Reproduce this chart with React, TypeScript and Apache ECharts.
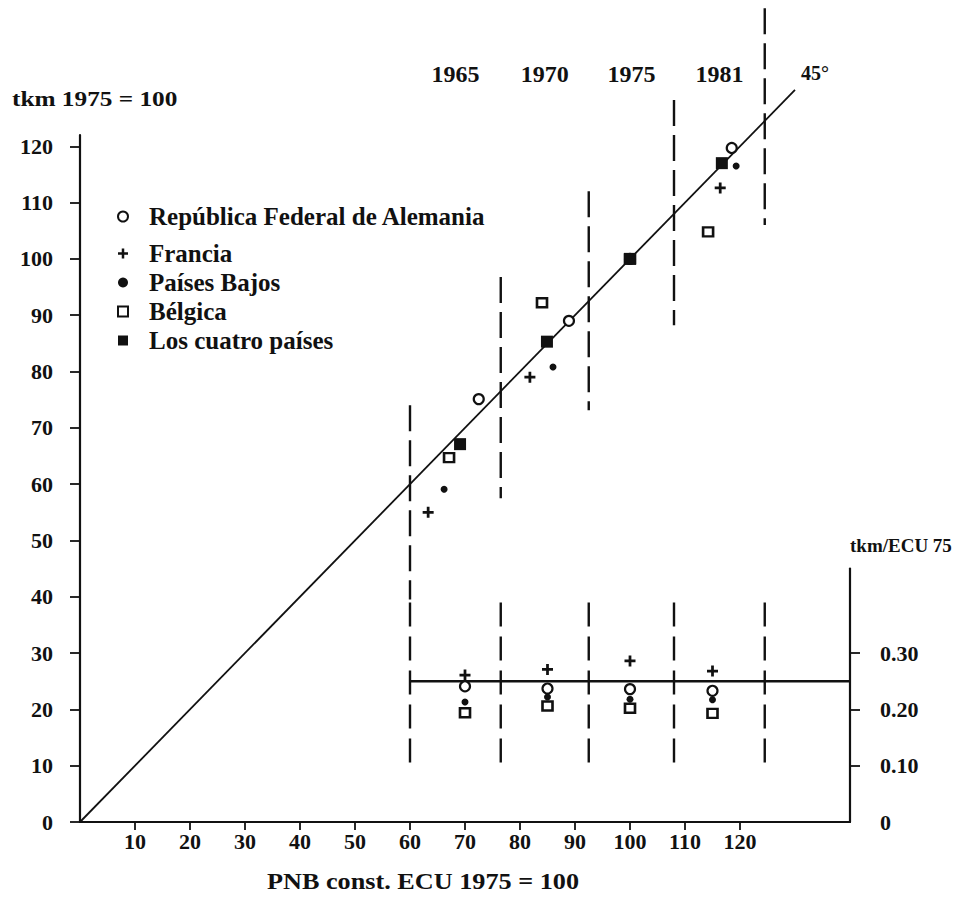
import React, { useEffect, useRef } from 'react';
import * as echarts from 'echarts';

const FONT = '"Liberation Serif", "Times New Roman", Times, serif';
const INK = '#111111';

// Axis ticks / labels
const pnbTickValues = [10, 20, 30, 40, 50, 60, 70, 80, 90, 100, 110, 120];
const tkmTickValues = [0, 10, 20, 30, 40, 50, 60, 70, 80, 90, 100, 110, 120];
const ratioTickValues = [0.1, 0.2, 0.3];
const ratioLabelValues = [0, 0.1, 0.2, 0.3];

// Periods (zones separated by dashed lines)
const periodYears = ['1965', '1970', '1975', '1981'];
const periodBounds = [60, 76.5, 92.5, 108, 124.5];
const periodLabelLevel = 132.8;
const upperDashTop = [74, 96.8, 112, 128.2, 144.5];
const upperDashBottom = [39.5, 57.5, 73.1, 88.2, 106];
const lowerDashTop = 0.39;
const lowerDashBottom = 0.1;

// 45 degree reference line
const diagonalX = [0, 130];
const diagonalY = [0, 130];

// average tkm/ECU level of the four countries
const fourCountryRatio = 0.25;
const ratioLineX = [60, 140];

const seriesNames = [
  'República Federal de Alemania',
  'Francia',
  'Países Bajos',
  'Bélgica',
  'Los cuatro países',
];

// Upper panel: [PNB index, tkm index]
const alemaniaIdx = [[72.5, 75.1], [88.9, 89], [100, 100], [118.5, 119.7]];
const franciaIdx = [[63.3, 55], [81.8, 79], [100, 100], [116.4, 112.6]];
const paisesBajosIdx = [[66.2, 59.1], [86, 80.8], [100, 100], [119.3, 116.5]];
const belgicaIdx = [[67.1, 64.7], [84, 92.2], [100, 100], [114.2, 104.8]];
const cuatroIdx = [[69.1, 67.1], [84.9, 85.3], [100, 100], [116.7, 117]];

// Lower panel: tkm / ECU 75
const ratioX = [70, 85, 100, 115];
const alemaniaRatio = [0.241, 0.237, 0.236, 0.233];
const franciaRatio = [0.261, 0.271, 0.286, 0.268];
const paisesBajosRatio = [0.213, 0.222, 0.218, 0.217];
const belgicaRatio = [0.194, 0.206, 0.202, 0.193];

const PLUS = 'path://M3,0H5V3H8V5H5V8H3V5H0V3H3Z';

const markerStyles = [
  { symbol: 'circle', symbolSize: 10, itemStyle: { color: '#fff', borderColor: INK, borderWidth: 2.2, opacity: 1 } },
  { symbol: PLUS, symbolSize: 11, itemStyle: { color: INK, opacity: 1 } },
  { symbol: 'circle', symbolSize: 7, itemStyle: { color: INK, opacity: 1 } },
  { symbol: 'rect', symbolSize: [10, 9], itemStyle: { color: '#fff', borderColor: INK, borderWidth: 2.5, opacity: 1 } },
  { symbol: 'rect', symbolSize: 12, itemStyle: { color: INK, opacity: 1 } },
];

const upperData = [alemaniaIdx, franciaIdx, paisesBajosIdx, belgicaIdx, cuatroIdx];
const lowerData = [alemaniaRatio, franciaRatio, paisesBajosRatio, belgicaRatio];

const labelText = { fontFamily: FONT, fontWeight: 'bold' as const, color: INK };

export default function App() {
  const ref = useRef<HTMLDivElement>(null);
  useEffect(() => {
    if (!ref.current) return;
    const chart = echarts.init(ref.current, undefined, { renderer: 'svg' });

    const series: any[] = [];

    // 45 degree line
    series.push({
      type: 'line',
      xAxisIndex: 0,
      yAxisIndex: 0,
      data: diagonalX.map((x, i) => [x, diagonalY[i]]),
      showSymbol: false,
      symbol: 'none',
      clip: false,
      silent: true,
      lineStyle: { color: INK, width: 1.8 },
      endLabel: {
        show: true,
        formatter: '45°',
        offset: [-2, -17],
        ...labelText,
        fontSize: 20,
      },
      z: 2,
    });

    // dashed period separators
    periodBounds.forEach((b, i) => {
      series.push({
        type: 'line',
        xAxisIndex: 0,
        yAxisIndex: 0,
        data: [[b, upperDashTop[i]], [b, upperDashBottom[i]]],
        symbol: 'none',
        clip: false,
        silent: true,
        lineStyle: { color: INK, width: 2.4, type: [26, 9] },
        z: 1,
      });
      series.push({
        type: 'line',
        xAxisIndex: 1,
        yAxisIndex: 1,
        data: [[b, lowerDashTop], [b, lowerDashBottom]],
        symbol: 'none',
        clip: false,
        silent: true,
        lineStyle: { color: INK, width: 2.4, type: [24, 10] },
        z: 1,
      });
    });

    // horizontal reference level in lower panel
    series.push({
      type: 'line',
      xAxisIndex: 1,
      yAxisIndex: 1,
      data: ratioLineX.map((x) => [x, fourCountryRatio]),
      symbol: 'none',
      silent: true,
      clip: false,
      lineStyle: { color: INK, width: 2.6 },
      z: 2,
    });

    // year labels
    series.push({
      type: 'scatter',
      xAxisIndex: 0,
      yAxisIndex: 0,
      symbolSize: 0,
      clip: false,
      silent: true,
      itemStyle: { opacity: 1 },
      data: periodYears.map((y, i) => ({
        name: y,
        value: [(periodBounds[i] + periodBounds[i + 1]) / 2, periodLabelLevel],
      })),
      label: {
        show: true,
        position: 'inside',
        formatter: (p: any) => p.name,
        ...labelText,
        opacity: 1,
        fontSize: 24,
      },
    });

    // country scatter points
    seriesNames.forEach((name, i) => {
      series.push({
        type: 'scatter',
        name,
        xAxisIndex: 0,
        yAxisIndex: 0,
        data: upperData[i],
        ...markerStyles[i],
        z: 5 + i,
      });
      if (i < lowerData.length) {
        series.push({
          type: 'scatter',
          name,
          xAxisIndex: 1,
          yAxisIndex: 1,
          data: lowerData[i].map((v, k) => [ratioX[k], v]),
          ...markerStyles[i],
          z: 5 + i,
        });
      }
    });

    const legendCommon = {
      orient: 'vertical' as const,
      left: 112,
      itemWidth: 10,
      itemHeight: 10,
      itemGap: 4,
      selectedMode: false,
      textStyle: { ...labelText, fontSize: 25, lineHeight: 24.5, padding: [0, 0, 0, 16] },
    };

    const option: any = {
      animation: false,
      backgroundColor: '#fff',
      grid: [
        { left: 80, right: 110, top: 135, bottom: 83 },
        { left: 410, right: 110, top: 568.6, bottom: 83 },
      ],
      xAxis: [
        {
          type: 'value',
          gridIndex: 0,
          min: 0,
          max: 140,
          axisLine: { show: true, lineStyle: { color: INK, width: 2.2 } },
          axisTick: { show: true, customValues: pnbTickValues, length: 8, lineStyle: { color: INK, width: 1.8 } },
          axisLabel: { show: true, customValues: pnbTickValues, margin: 8, ...labelText, fontSize: 22 },
          splitLine: { show: false },
        },
        {
          type: 'value',
          gridIndex: 1,
          min: 60,
          max: 140,
          show: false,
        },
      ],
      yAxis: [
        {
          type: 'value',
          gridIndex: 0,
          min: 0,
          max: 122,
          axisLine: { show: true, lineStyle: { color: INK, width: 2.2 } },
          axisTick: { show: true, customValues: tkmTickValues, length: 10, lineStyle: { color: INK, width: 1.8 } },
          axisLabel: { show: true, customValues: tkmTickValues, margin: 27, ...labelText, fontSize: 22 },
          splitLine: { show: false },
        },
        {
          type: 'value',
          gridIndex: 1,
          position: 'right',
          min: 0,
          max: 0.45,
          axisLine: { show: true, lineStyle: { color: INK, width: 2.2 } },
          axisTick: { show: true, customValues: ratioTickValues, length: 10, lineStyle: { color: INK, width: 1.8 } },
          axisLabel: {
            show: true,
            customValues: ratioLabelValues,
            margin: 30,
            formatter: (v: number) => (v === 0 ? '0' : v.toFixed(2)),
            ...labelText,
            fontSize: 22,
          },
          splitLine: { show: false },
        },
      ],
      legend: [
        { ...legendCommon, top: 199, data: [seriesNames[0]] },
        { ...legendCommon, top: 236, data: seriesNames.slice(1) },
      ],
      graphic: [
        {
          type: 'text',
          x: 12,
          y: 88,
          scaleX: 1.15,
          style: { text: 'tkm 1975 = 100', font: `bold 22px ${FONT}`, fill: INK },
        },
        {
          type: 'text',
          x: 850,
          y: 536,
          style: { text: 'tkm/ECU 75', font: `bold 19px ${FONT}`, fill: INK },
        },
        {
          type: 'text',
          x: 267,
          y: 870,
          scaleX: 1.14,
          style: { text: 'PNB const. ECU 1975 = 100', font: `bold 23px ${FONT}`, fill: INK },
        },
      ],
      series,
    };

    chart.setOption(option);
    return () => chart.dispose();
  }, []);

  return (
    <div
      ref={ref}
      style={{ position: 'fixed', left: 0, top: 0, width: 960, height: 905, background: '#fff' }}
    />
  );
}
